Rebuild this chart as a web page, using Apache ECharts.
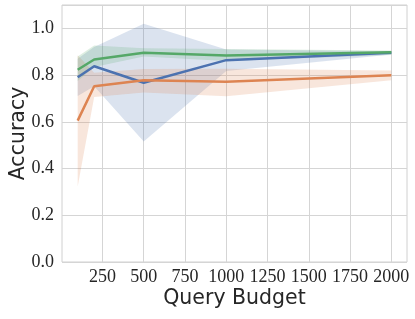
<!DOCTYPE html>
<html>
<head>
<meta charset="utf-8">
<script src="https://cdn.jsdelivr.net/npm/echarts@6/dist/echarts.min.js"></script>
<style>html,body{margin:0;padding:0;background:#fff;}#c{width:415px;height:319px;}</style>
</head>
<body>
<div id="c"></div>
<script>
const budgets = [100, 200, 500, 1000, 2000];
const xTicks = [250, 500, 750, 1000, 1250, 1500, 1750, 2000];

const blueMean  = [0.791, 0.838, 0.767, 0.864, 0.896];
const blueLow   = [0.710, 0.752, 0.516, 0.817, 0.888];
const blueHigh  = [0.870, 0.920, 1.020, 0.910, 0.902];

const orangeMean = [0.605, 0.752, 0.778, 0.771, 0.799];
const orangeLow  = [0.323, 0.706, 0.726, 0.709, 0.778];
const orangeHigh = [0.885, 0.810, 0.826, 0.827, 0.820];

const greenMean = [0.823, 0.867, 0.896, 0.884, 0.898];
const greenLow  = [0.775, 0.835, 0.880, 0.860, 0.886];
const greenHigh = [0.880, 0.927, 0.915, 0.912, 0.905];

const BLUE = '#4c72b0', ORANGE = '#dd8452', GREEN = '#55a868';
const TXT = '#262626';

function band(low, high, color) {
  return {
    type: 'custom', silent: true, z: 1,
    data: [[budgets[0], low[0]]],
    encode: {x: 0, y: 1},
    renderItem: function (params, api) {
      const pts = [];
      for (let i = 0; i < budgets.length; i++) pts.push(api.coord([budgets[i], high[i]]));
      for (let i = budgets.length - 1; i >= 0; i--) pts.push(api.coord([budgets[i], low[i]]));
      return {type: 'polygon', shape: {points: pts}, style: {fill: color, opacity: 0.2}};
    }
  };
}
function line(vals, color) {
  return {
    type: 'line', z: 3, symbol: 'none', silent: true,
    data: budgets.map((x, i) => [x, vals[i]]),
    lineStyle: {color: color, width: 2.5}
  };
}

const chart = echarts.init(document.getElementById('c'), null, {renderer: 'canvas'});
chart.setOption({
  animation: false,
  grid: {left: 62, right: 8, top: 5, bottom: 57, show: true, borderColor: '#d0d0d0', borderWidth: 1,
         containLabel: false, outerBoundsMode: 'none'},
  xAxis: {
    type: 'value', min: 5, max: 2095,
    name: 'Query Budget', nameLocation: 'middle', nameGap: 26, nameMoveOverlap: false,
    nameTextStyle: {fontFamily: 'DejaVu Sans', fontSize: 20.5, color: TXT},
    axisLine: {show: false}, axisTick: {show: false, customValues: xTicks},
    axisLabel: {customValues: xTicks, fontFamily: 'Liberation Serif', fontSize: 18, color: TXT, margin: 6,
      formatter: v => String(v)},
    splitLine: {show: true, lineStyle: {color: '#d5d5d5', width: 1}}
  },
  yAxis: {
    type: 'value', min: 0, max: 1.1, interval: 0.2,
    name: 'Accuracy', nameLocation: 'middle', nameGap: 33, nameMoveOverlap: false,
    nameTextStyle: {fontFamily: 'DejaVu Sans', fontSize: 20.5, color: TXT},
    axisLine: {show: false}, axisTick: {show: false},
    axisLabel: {fontFamily: 'Liberation Serif', fontSize: 18, color: TXT, margin: 8,
      formatter: v => v > 1.05 ? '' : v.toFixed(1)},
    splitLine: {show: true, lineStyle: {color: '#d5d5d5', width: 1}}
  },
  series: [
    band(blueLow, blueHigh, BLUE),
    band(orangeLow, orangeHigh, ORANGE),
    band(greenLow, greenHigh, GREEN),
    line(blueMean, BLUE),
    line(orangeMean, ORANGE),
    line(greenMean, GREEN)
  ]
});
</script>
</body>
</html>
